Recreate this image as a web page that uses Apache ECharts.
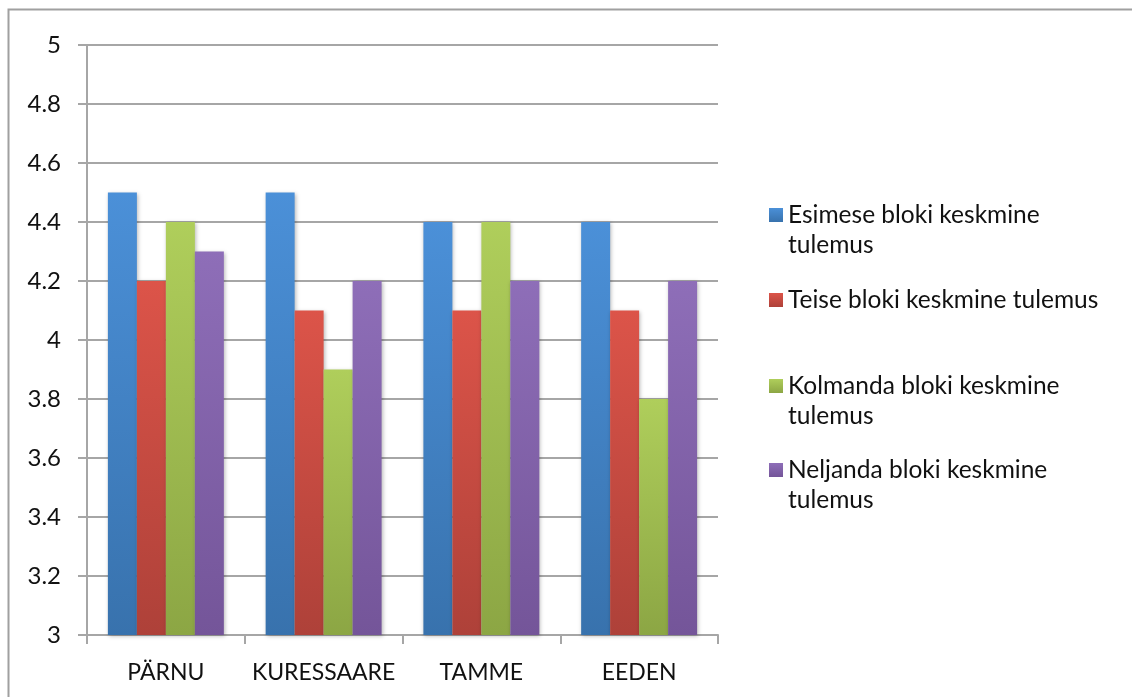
<!DOCTYPE html>
<html>
<head>
<meta charset="utf-8">
<script src="https://cdn.jsdelivr.net/npm/echarts@6/dist/echarts.min.js"></script>
<style>
  html, body { margin: 0; padding: 0; background: #fff; }
  #chart { width: 1132px; height: 697px; }
</style>
</head>
<body>
<div id="chart"></div>
<script>
// Block averages per school
const categories = ['PÄRNU', 'KURESSAARE', 'TAMME', 'EEDEN'];
const seriesNames = [
  'Esimese bloki keskmine tulemus',
  'Teise bloki keskmine tulemus',
  'Kolmanda bloki keskmine tulemus',
  'Neljanda bloki keskmine tulemus'
];
const block1 = [4.5, 4.5, 4.4, 4.4];
const block2 = [4.2, 4.1, 4.1, 4.1];
const block3 = [4.4, 3.9, 4.4, 3.8];
const block4 = [4.3, 4.2, 4.2, 4.2];
const yTicks = { min: 3, max: 5, step: 0.2 };

// Legend labels split across lines the way they wrap.
// A leading blank line keeps the swatch level with the first text line.
const legendLabels = [
  '\nEsimese bloki keskmine\ntulemus',
  'Teise bloki keskmine tulemus',
  '\nKolmanda bloki keskmine\ntulemus',
  '\nNeljanda bloki keskmine\ntulemus'
];

const FONT = 'Lato';
const GRID = '#a6a6a6';

// Vertical gradients: lighter at the top of each bar, darker at the base
const palette = [
  ['#4b90d8', '#3872ad'],
  ['#dc5449', '#ae4139'],
  ['#afce5b', '#8ca644'],
  ['#8e6eb8', '#745599']
];
function grad(pair) {
  return new echarts.graphic.LinearGradient(0, 0, 0, 1, [
    { offset: 0, color: pair[0] },
    { offset: 1, color: pair[1] }
  ]);
}

const values = [block1, block2, block3, block4];
const series = values.map((data, i) => ({
  name: seriesNames[i],
  type: 'bar',
  data: data,
  barGap: '0%',
  barCategoryGap: '26.5%',
  itemStyle: {
    color: grad(palette[i]),
    shadowColor: 'rgba(0,0,0,0.28)',
    shadowBlur: 4,
    shadowOffsetX: 1,
    shadowOffsetY: 1
  },
  emphasis: { disabled: true }
}));

const LINE_H = 30;
const legendTops = [170, 285, 341, 425];
const legends = seriesNames.map((name, i) => ({
  left: 769,
  top: legendTops[i],
  orient: 'vertical',
  padding: 0,
  itemWidth: 14,
  itemHeight: 14,
  icon: 'rect',
  data: [name],
  selectedMode: false,
  formatter: () => legendLabels[i],
  textStyle: {
    fontFamily: FONT,
    fontSize: 24.5,
    color: '#111',
    lineHeight: LINE_H
  }
}));

const chart = echarts.init(document.getElementById('chart'), null, { renderer: 'canvas' });
chart.setOption({
  animation: false,
  backgroundColor: '#fff',
  graphic: [{
    type: 'rect',
    shape: { x: 8.5, y: 9.5, width: 1300, height: 800 },
    style: { fill: 'none', stroke: '#a0a0a0', lineWidth: 2 },
    silent: true,
    z: -1
  }],
  grid: { left: 87, right: 414, top: 45, bottom: 62 },
  legend: legends,
  xAxis: {
    type: 'category',
    data: categories,
    axisLine: { lineStyle: { color: GRID, width: 2 } },
    axisTick: { show: true, length: 9, lineStyle: { color: GRID, width: 2 } },
    axisLabel: { interval: 0, fontFamily: FONT, fontSize: 23, color: '#111', margin: 26 },
    splitLine: { show: false }
  },
  yAxis: {
    type: 'value',
    min: yTicks.min,
    max: yTicks.max,
    interval: yTicks.step,
    axisLine: { show: true, lineStyle: { color: GRID, width: 2 } },
    axisTick: { show: true, length: 9, lineStyle: { color: GRID, width: 2 } },
    axisLabel: {
      fontFamily: FONT, fontSize: 24, color: '#111', margin: 26,
      formatter: v => String(Math.round(v * 10) / 10)
    },
    splitLine: { show: true, lineStyle: { color: GRID, width: 2 } }
  },
  series: series
});
</script>
</body>
</html>
